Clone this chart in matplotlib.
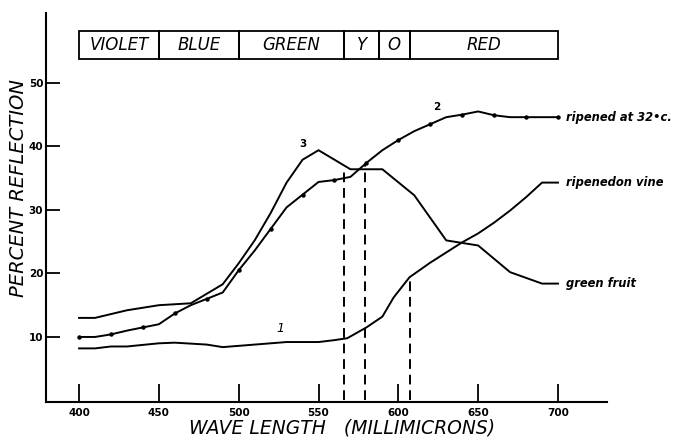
import numpy as np
import matplotlib
matplotlib.use("Agg")
import matplotlib.pyplot as plt
from matplotlib.patches import Rectangle

# reflection curves, wavelength in millimicrons
wl_ripe32 = np.array([400, 410, 420, 430, 440, 450, 460, 470, 480, 490, 500, 510, 520, 530, 540,
                      550, 560, 570, 580, 590, 600, 610, 620, 630, 640, 650, 660, 670, 680, 690, 700])
ref_ripe32 = np.array([10, 10, 10.4, 11, 11.5, 12, 13.7, 15, 16, 17, 20.5, 23.6, 27, 30.4, 32.4,
                       34.4, 34.7, 35.2, 37.4, 39.4, 41, 42.4, 43.5, 44.6, 45, 45.5, 44.9, 44.6, 44.6, 44.6, 44.6])

wl_vine = np.array([400, 410, 420, 430, 450, 460, 480, 490, 500, 520, 530, 550, 560, 568,
                    580, 590, 597, 607, 620, 630, 640, 650, 660, 670, 680, 690, 700])
ref_vine = np.array([8.2, 8.2, 8.5, 8.5, 9.0, 9.1, 8.8, 8.4, 8.6, 9.0, 9.2, 9.2, 9.5, 9.8,
                     11.5, 13.2, 16.2, 19.4, 21.7, 23.3, 24.9, 26.3, 28.0, 29.9, 32, 34.3, 34.3])

wl_green = np.array([400, 410, 430, 450, 470, 490, 500, 510, 520, 530, 540, 550, 570, 590,
                     610, 630, 650, 670, 690, 700])
ref_green = np.array([13, 13, 14.2, 15, 15.3, 18.3, 21.6, 25.2, 29.5, 34.3, 37.9, 39.4, 36.4, 36.4,
                      32.3, 25.2, 24.4, 20.2, 18.4, 18.4])

curve_names = ["ripened at 32\u2022c.", "ripenedon vine", "green fruit"]
curve_numbers = ["2", "1", "3"]

# spectrum bands across the top
band_names = ["VIOLET", "BLUE", "GREEN", "Y", "O", "RED"]
band_edges = [400, 450, 500, 566, 588, 607, 700]

# dropped lines: wavelength and height reached
drop_wl = [566, 579, 607]
drop_top = [36.7, 37.3, 19.4]

x_ticks = [400, 450, 500, 550, 600, 650, 700]
y_ticks = [10, 20, 30, 40, 50]

fig = plt.figure(figsize=(6.8, 4.38), dpi=100)
ax = fig.add_axes([46 / 680, 1 - 402 / 438, (607 - 46) / 680, (402 - 13) / 438])
ax.set_xlim(379.3, 730.7)
ax.set_ylim(-0.24, 61.0)

for s in ["top", "right"]:
    ax.spines[s].set_visible(False)
for s in ["left", "bottom"]:
    ax.spines[s].set_linewidth(1.5)

ax.set_xticks(x_ticks)
ax.set_yticks(y_ticks)
ax.tick_params(axis="x", direction="in", length=13, width=1.3, pad=4,
               labelsize=7.5)
ax.tick_params(axis="y", direction="in", length=10, width=1.3, pad=2,
               labelsize=7.5)
for lab in ax.get_xticklabels() + ax.get_yticklabels():
    lab.set_fontweight("bold")

lw = 1.4
ax.plot(wl_ripe32, ref_ripe32, color="black", lw=lw)
dots = wl_ripe32 % 20 == 0
ax.plot(wl_ripe32[dots], ref_ripe32[dots], "o", color="black", ms=2.2)
ax.plot(wl_vine, ref_vine, color="black", lw=lw)
ax.plot(wl_green, ref_green, color="black", lw=lw)

for w, t in zip(drop_wl, drop_top):
    ax.plot([w, w], [0, t], color="black", lw=1.4, linestyle=(0, (5, 3)))

# curve end labels
ends = [(wl_ripe32, ref_ripe32), (wl_vine, ref_vine), (wl_green, ref_green)]
for (w, r), name in zip(ends, curve_names):
    ax.text(w[-1] + 5, r[-1], name, fontsize=8.3, fontstyle="italic",
            fontweight="bold", va="center", ha="left")

# curve numbers
ax.text(624, 45.4, curve_numbers[0], fontsize=7.5, fontweight="bold", ha="center", va="bottom")
ax.text(526, 10.3, curve_numbers[1], fontsize=9, fontstyle="italic", ha="center", va="bottom")
ax.text(540, 39.6, curve_numbers[2], fontsize=7.5, fontweight="bold", ha="center", va="bottom")

# spectrum band boxes
for i, name in enumerate(band_names):
    x0, x1 = band_edges[i], band_edges[i + 1]
    ax.add_patch(Rectangle((x0, 53.8), x1 - x0, 4.3, fill=False, lw=1.3,
                           edgecolor="black", clip_on=False))
    ax.text((x0 + x1) / 2, 55.95, name, fontsize=12, fontstyle="italic",
            ha="center", va="center")

ax.text(565, -2.9, "WAVE LENGTH   (MILLIMICRONS)", fontsize=13.5, fontstyle="italic",
        ha="center", va="top", clip_on=False)
fig.text(19 / 680, 1 - 188 / 438, "PERCENT REFLECTION", fontsize=14,
         fontstyle="italic", rotation=90, ha="center", va="center")

fig.savefig("out.png", dpi=100)
